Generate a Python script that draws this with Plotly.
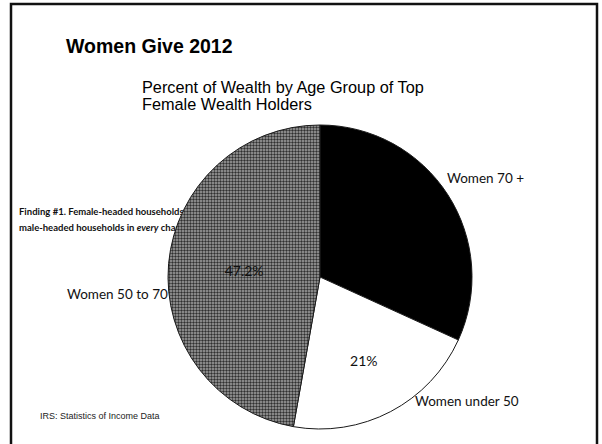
import plotly.graph_objects as go

# Data
categories = ["Women 70 +", "Women under 50", "Women 50 to 70"]
values = [31.8, 21, 47.2]
title_text = "Women Give 2012"
subtitle_lines = ["Percent of Wealth by Age Group of Top", "Female Wealth Holders"]
finding_lines = ["Finding #1. Female-headed households are more likely to give than",
                 "male-headed households in <i>every</i> charitable category"]
source_text = "IRS: Statistics of Income Data"

W, H = 602, 444
def px(x): return x / W
def py(y): return 1 - y / H

fig = go.Figure()
fig.add_trace(go.Pie(
    labels=categories,
    values=values,
    sort=False,
    direction="clockwise",
    rotation=0,
    domain=dict(x=[px(168), px(472)], y=[py(429), py(125)]),
    marker=dict(
        colors=["#000000", "#ffffff", "#808080"],
        line=dict(color="#1a1a1a", width=1),
        pattern=dict(shape=["", "", "."], size=3, solidity=0.5,
                     fgcolor="#303030", bgcolor="#a4a4a4", fillmode="replace"),
    ),
    texttemplate="%{value}%",
    textposition="inside",
    insidetextorientation="horizontal",
    textfont=dict(family="Lato", size=14, color="#000000"),
    insidetextfont=dict(family="Lato", size=14, color=["#000000", "#111111", "#111111"]),
    hoverinfo="label+percent",
    showlegend=False,
))

ann = []
ann.append(dict(text="<b>" + title_text + "</b>", x=px(64), y=py(46), xanchor="left", yanchor="middle",
                font=dict(family="Liberation Sans", size=19.5, color="#000")))
for line, yy in zip(subtitle_lines, [87, 104]):
    ann.append(dict(text=line, x=px(140), y=py(yy), xanchor="left", yanchor="middle",
                    font=dict(family="Liberation Sans", size=16.3, color="#000")))
name_pos = [(445, 178, "left"), (413, 401, "left"), (170, 294, "right")]
for name, (xx, yy, anc) in zip(categories, name_pos):
    ann.append(dict(text=name, x=px(xx), y=py(yy), xanchor=anc, yanchor="middle",
                    font=dict(family="Lato", size=13.5, color="#111")))
ann.append(dict(text=source_text, x=px(38), y=py(416), xanchor="left", yanchor="middle",
                font=dict(family="Liberation Sans", size=9, color="#222")))
for a in ann:
    a.update(xref="paper", yref="paper", showarrow=False)

shapes = []
for line, yy in zip(finding_lines, [211, 227]):
    shapes.append(dict(type="rect", xref="paper", yref="paper",
                       x0=px(16), x1=px(500), y0=py(yy + 6), y1=py(yy - 6),
                       line=dict(width=0), fillcolor="rgba(0,0,0,0)", layer="below",
                       label=dict(text="<b>" + line + "</b>", textposition="middle left", padding=0,
                                  font=dict(family="Lato", size=9.5, color="#111"))))
# slide frame
shapes.append(dict(type="rect", xref="paper", yref="paper",
                   x0=px(11), x1=px(597), y0=py(460), y1=py(4),
                   line=dict(color="#111", width=2.5), fillcolor="rgba(0,0,0,0)", layer="above"))

fig.update_layout(
    width=W, height=H,
    margin=dict(l=0, r=0, t=0, b=0),
    paper_bgcolor="white",
    plot_bgcolor="white",
    annotations=ann,
    shapes=shapes,
)
fig.write_html("out.html")
